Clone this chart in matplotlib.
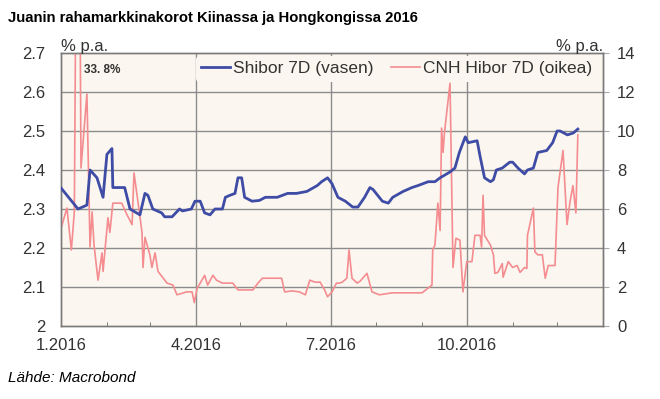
''' Juanin rahamarkkinakorot 2016 '''
import matplotlib
matplotlib.use('Agg')
import matplotlib.pyplot as plt
import matplotlib.dates as mdates
import pandas as pd

# days since 1.1.2016
shibor_day = [0, 11.5, 17.5, 19.6, 24.3, 28.4, 31, 34.4, 35, 43, 46.6, 53.3, 56.7, 58.7, 62, 68, 70, 75,
              80, 82, 88, 90.5, 94, 97, 100.6, 104, 109, 111, 114, 117.5, 119.5, 122, 124, 129, 134, 138,
              146, 153, 159, 166, 173, 176, 180, 183, 187, 192, 197, 200.5, 205, 208.6, 210.7, 217, 221,
              224, 231, 237, 241, 248, 252.5, 256, 262.7, 266, 269, 273, 275, 281, 283, 286, 290, 292,
              294, 298, 303, 305, 308.6, 313, 315, 319, 322, 328, 330, 332, 335, 337, 342, 346, 349]
shibor = [2.354, 2.30, 2.31, 2.40, 2.38, 2.33, 2.44, 2.455, 2.355, 2.355, 2.30, 2.285, 2.34, 2.335, 2.30,
          2.29, 2.28, 2.28, 2.30, 2.295, 2.30, 2.32, 2.32, 2.29, 2.285, 2.30, 2.30, 2.33, 2.335, 2.34,
          2.38, 2.38, 2.33, 2.32, 2.322, 2.33, 2.33, 2.34, 2.34, 2.345, 2.36, 2.37, 2.38, 2.365, 2.33,
          2.32, 2.305, 2.305, 2.33, 2.355, 2.35, 2.32, 2.315, 2.33, 2.345, 2.355, 2.36, 2.37, 2.37,
          2.38, 2.395, 2.405, 2.445, 2.485, 2.47, 2.475, 2.435, 2.38, 2.37, 2.375, 2.40, 2.405, 2.42,
          2.42, 2.405, 2.39, 2.40, 2.405, 2.445, 2.45, 2.46, 2.47, 2.50, 2.50, 2.49, 2.495, 2.505]

hibor_day = [0, 4, 7, 9, 11.5, 13.5, 17.5, 19.6, 21, 22.3, 25, 27.7, 28.4, 31.7, 33, 35, 41, 44.6, 48,
             49.3, 52, 54.7, 55.4, 56.7, 60, 61.4, 63.5, 65.5, 71.6, 75.6, 78.3, 85, 88.5, 90, 92, 94,
             97, 99, 102.6, 105, 109, 116, 119.5, 129.6, 133, 136, 140, 149, 151, 156, 161, 165, 168,
             171.5, 175, 178, 180, 183, 186, 188, 190, 193, 194.5, 196.5, 200, 202, 206.6, 210, 215,
             223.5, 237, 243.8, 250.5, 251, 252.5, 254.5, 256, 257, 258, 259, 262.7, 264.7, 266.7,
             269.4, 271.4, 274, 277.5, 279.5, 283, 284, 285, 286, 290, 292, 293, 295, 298, 298.5, 302,
             305, 308, 310, 313, 314.6, 315, 319, 320, 322, 325, 327, 329, 333.6, 335.6, 339, 341.7,
             343.7, 345.7, 347.7, 349]
hibor = [5.0, 6.05, 3.9, 5.85, 33.8, 8.1, 11.9, 4.05, 5.85, 4.15, 2.35, 3.75, 2.8, 5.55, 4.8, 6.3, 6.3,
         5.7, 5.2, 7.85, 6.35, 4.8, 3.0, 4.55, 3.65, 3.0, 3.75, 2.8, 2.2, 2.1, 1.6, 1.75, 1.75, 1.2, 1.95,
         2.2, 2.6, 2.1, 2.6, 2.35, 2.2, 2.2, 1.85, 1.85, 2.2, 2.45, 2.45, 2.45, 1.75, 1.8, 1.75, 1.6,
         2.35, 2.25, 2.25, 1.85, 1.5, 1.75, 2.2, 2.2, 2.25, 2.45, 3.9, 2.45, 2.2, 2.3, 2.7, 1.75, 1.6,
         1.7, 1.7, 1.7, 2.1, 3.9, 4.15, 6.3, 4.9, 10.15, 8.9, 9.95, 12.45, 3.0, 4.5, 4.4, 1.75, 3.3,
         3.3, 4.65, 4.65, 4.05, 6.7, 4.65, 4.15, 3.65, 2.7, 2.75, 3.2, 2.5, 3.3, 3.0, 3.1, 2.75, 3.0,
         2.95, 4.65, 6.05, 3.8, 3.65, 3.65, 2.45, 3.1, 3.1, 7.1, 9.0, 5.2, 6.35, 7.2, 5.8, 9.8]

left_ticks = [2, 2.1, 2.2, 2.3, 2.4, 2.5, 2.6, 2.7]
left_labels = ['2', '2.1', '2.2', '2.3', '2.4', '2.5', '2.6', '2.7']
right_ticks = [0, 2, 4, 6, 8, 10, 12, 14]
x_dates = ['2016-01-01', '2016-04-01', '2016-07-01', '2016-10-01']
x_labels = ['1.2016', '4.2016', '7.2016', '10.2016']

start = pd.Timestamp('2016-01-01')
x_sh = start + pd.to_timedelta(shibor_day, unit='D')
x_hi = start + pd.to_timedelta(hibor_day, unit='D')

plt.rcParams['font.family'] = ['Liberation Sans', 'DejaVu Sans']
bg = '#fbf6ef'
grid_c = '#8c8c8c'
txt_c = '#333333'
fs = 12

fig = plt.figure(figsize=(6.6, 3.99), dpi=100)
ax2 = fig.add_axes([61 / 660, 1 - 326 / 399, 542 / 660, 273 / 399])
ax2.set_facecolor(bg)
ax2.yaxis.tick_right()
ax = fig.add_axes(ax2.get_position(), sharex=ax2)
ax.patch.set_visible(False)

ax.set_ylim(2.0, 2.7)
ax2.set_ylim(0, 14)
ax2.set_xlim(start, pd.Timestamp('2017-01-01'))

# gridlines under both lines
for t in right_ticks[1:-1]:
    ax2.axhline(t, color=grid_c, lw=1.0, zorder=1)
for d in x_dates[1:]:
    ax2.axvline(pd.Timestamp(d), color=grid_c, lw=1.0, zorder=1)

l2, = ax2.plot(x_hi, hibor, color='#f48c90', lw=1.2, zorder=3, label='CNH Hibor 7D (oikea)')
l1, = ax.plot(x_sh, shibor, color='#3f4ca6', lw=2.0, zorder=4, label='Shibor 7D (vasen)')

ax.set_yticks(left_ticks)
ax.set_yticklabels(left_labels)
ax2.set_yticks(right_ticks)
ax.tick_params(axis='y', length=0, labelsize=fs, labelcolor=txt_c, pad=11)
ax2.tick_params(axis='y', length=4, color='#aaaaaa', labelsize=fs, labelcolor=txt_c, pad=6)

ax.set_xticks([pd.Timestamp(d) for d in x_dates])
ax.set_xticklabels(x_labels)
ax.xaxis.set_minor_locator(mdates.MonthLocator())
ax.tick_params(axis='x', which='major', length=0, labelsize=fs, labelcolor=txt_c, pad=9)
ax.tick_params(axis='x', which='minor', direction='in', length=3, color='#666666')
ax2.tick_params(axis='x', which='both', length=0, labelbottom=False)

for a in (ax, ax2):
    for s in a.spines.values():
        s.set_color('#7a7a7a')
        s.set_linewidth(1.0)

leg = ax.legend(handles=[l1, l2], loc='upper left', bbox_to_anchor=(0.245, 0.995), ncol=2,
                frameon=True, fontsize=12.5, handlelength=1.7, handletextpad=0.15, columnspacing=1.0,
                borderpad=0.3, borderaxespad=0.1)
leg.get_frame().set_facecolor(bg)
leg.get_frame().set_edgecolor('none')
leg.get_frame().set_alpha(1)
for t in leg.get_texts():
    t.set_color(txt_c)

fig.text(84 / 660, 1 - 70 / 399, '33. 8%', fontsize=8.5, fontweight='bold',
         color=txt_c, va='center', ha='left')
fig.text(61 / 660, 1 - 46 / 399, '% p.a.', fontsize=fs, color=txt_c, ha='left', va='center')
fig.text(603 / 660, 1 - 46 / 399, '% p.a.', fontsize=fs, color=txt_c, ha='right', va='center')
fig.text(8 / 660, 1 - 18 / 399, 'Juanin rahamarkkinakorot Kiinassa ja Hongkongissa 2016', fontsize=10.7,
         fontweight='bold', color='black', ha='left', va='center')
fig.text(8 / 660, 1 - 378 / 399, 'Lähde: Macrobond', fontsize=11, style='italic', color='black',
         ha='left', va='center')

plt.savefig('out.png', dpi=100)
